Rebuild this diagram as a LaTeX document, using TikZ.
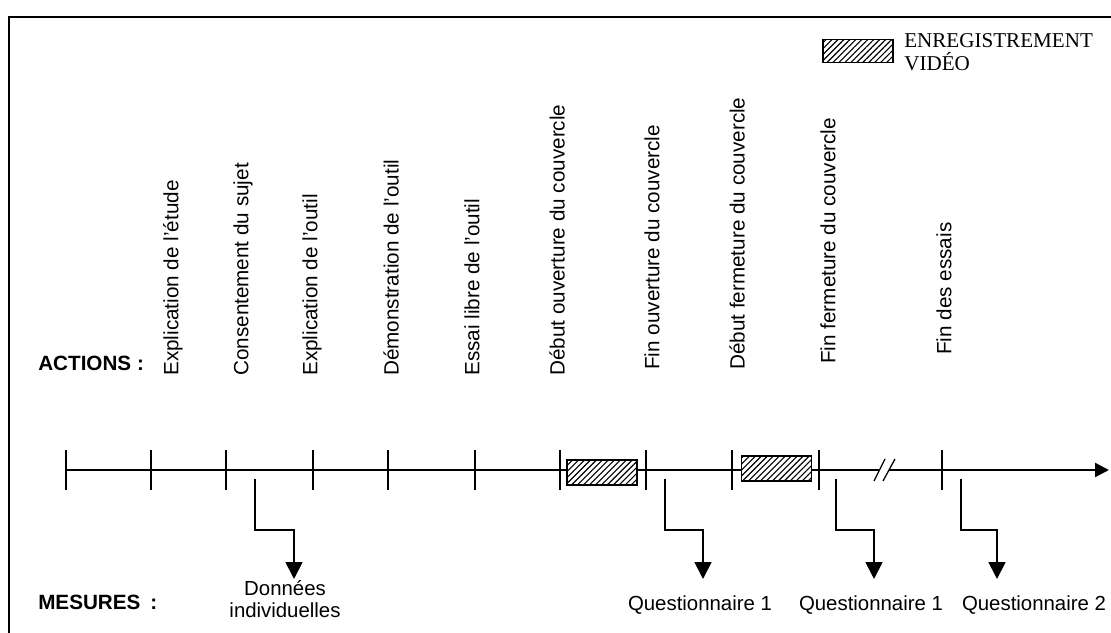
\documentclass[tikz,border=0pt]{standalone}
\usepackage{fontspec}
\setmainfont{Liberation Sans}
\newfontfamily\legendfont{Liberation Serif}
\usetikzlibrary{arrows.meta,patterns.meta}
\tikzset{
  actLabel/.style={rotate=90, anchor=west, inner sep=0pt, font=\fontsize{14.7}{17}\selectfont},
  rowTitle/.style={anchor=west, inner sep=0pt, font=\fontsize{14.7}{17}\selectfont\bfseries},
  mesLabel/.style={align=center, inner sep=0pt, font=\fontsize{14.5}{15.8}\selectfont},
  videoBox/.style={draw=black, line width=1.2pt, fill=white, inner sep=0pt,
              postaction={pattern={Lines[angle=45,distance=3pt,line width=0.8pt]}},
              minimum width=1.75cm},
  tickLine/.style={line width=0.9pt},
  timeLine/.style={line width=1.5pt},
  mesArrow/.style={-{Triangle[length=0.42cm,width=0.42cm]}, line width=1.3pt},
  frameLine/.style={line width=1.6pt}
}

\begin{document}
\begin{tikzpicture}

\useasboundingbox (0,0) rectangle (27.775,15.825);

% Frame
\draw[frameLine] (0.225,0) -- (0.225,15.4) -- (27.775,15.4);

% Legend
\node[videoBox, minimum height=0.575cm] (legBox) at (21.45,14.55) {};
\node[anchor=west, inner sep=0pt, align=left, font=\legendfont\fontsize{15}{16}\selectfont]
  (legText) at (22.6,14.52) {ENREGISTREMENT\\VIDÉO};

% Row titles
\node[rowTitle] (actions) at (0.95,6.75) {ACTIONS :};
\node[rowTitle] (mesures) at (0.95,0.775) {MESURES\hspace{3pt} :};

% Actions
\node[actLabel] (a1) at (4.325,6.425) {Explication de l'étude};
\node[actLabel] (a2) at (6.075,6.425) {Consentement du sujet};
\node[actLabel] (a3) at (7.8,6.425) {Explication de l'outil};
\node[actLabel] (a4) at (9.775,6.425) {Démonstration de l'outil};
\node[actLabel] (a5) at (11.8,6.425) {Essai libre de l'outil};
\node[actLabel] (a6) at (13.925,6.425) {Début ouverture du couvercle};
\node[actLabel] (a7) at (16.3,6.575) {Fin ouverture du couvercle};
\node[actLabel] (a8) at (18.425,6.575) {Début fermeture du couvercle};
\node[actLabel] (a9) at (20.7,6.725) {Fin fermeture du couvercle};
\node[actLabel] (a10) at (23.6,6.95) {Fin des essais};

% Time line
\foreach \x [count=\i from 0] in {1.65,3.775,5.65,7.825,9.7,11.875,14.0,16.15,18.3,20.475,23.55} {
  \coordinate (t\i) at (\x,4.075);
  \draw[tickLine] (\x,3.575) -- (\x,4.575);
}
\coordinate (brkL) at (21.975,4.075);
\coordinate (brkR) at (22.225,4.075);
\coordinate (tEnd) at (27.725,4.075);
\draw[timeLine] (t0) -- (brkL);
\draw[timeLine,-{Triangle[length=0.35cm,width=0.35cm]}] (brkR) -- (tEnd);
\draw[tickLine] (21.85,3.8) -- (22.125,4.35);
\draw[tickLine] (22.075,3.8) -- (22.375,4.35);

% Video recordings
\node[videoBox, minimum height=0.625cm] (vid1) at (15.05,4.0125) {};
\node[videoBox, minimum height=0.625cm] (vid2) at (19.41,4.1125) {};

% Measures
\node[mesLabel] (donnees) at (7.125,0.85) {Données\\individuelles};
\node[mesLabel] (quest1) at (17.5,0.7) {Questionnaire 1};
\node[mesLabel] (quest1b) at (21.775,0.7) {Questionnaire 1};
\node[mesLabel] (quest2) at (25.85,0.7) {Questionnaire 2};

\coordinate (s1) at (6.375,3.85);   \coordinate (e1) at (7.35,1.35);
\coordinate (s2) at (16.625,3.85);  \coordinate (e2) at (17.575,1.35);
\coordinate (s3) at (20.9,3.85);    \coordinate (e3) at (21.85,1.35);
\coordinate (s4) at (24.025,3.85);  \coordinate (e4) at (24.925,1.35);

\foreach \k in {1,2,3,4}
  \draw[mesArrow] (s\k) -- ++(0,-1.275) -| (e\k);

\end{tikzpicture}
\end{document}
